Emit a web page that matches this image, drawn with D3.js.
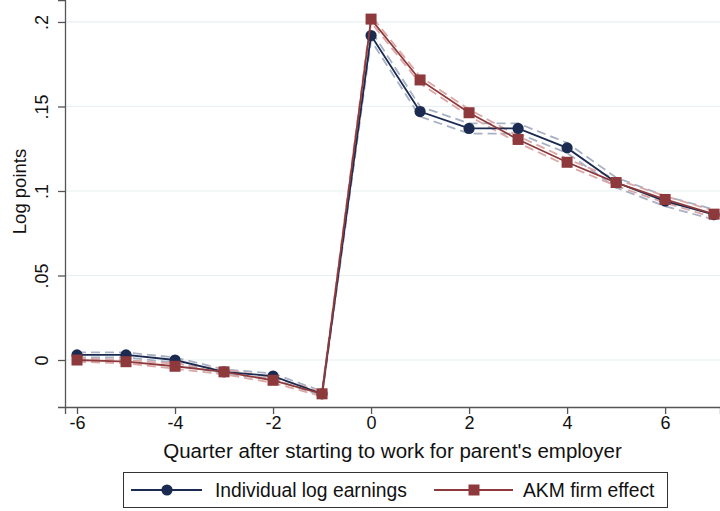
<!DOCTYPE html>
<html>
<head>
<meta charset="utf-8">
<script src="https://cdn.jsdelivr.net/npm/d3@7"></script>
<style>
html,body{margin:0;padding:0;background:#fff;}
svg{display:block;font-family:"Liberation Sans",Arial,Helvetica,sans-serif;}
</style>
</head>
<body>
<svg id="chart" width="720" height="511"></svg>
<script>
const quarters = [-6,-5,-4,-3,-2,-1,0,1,2,3,4,5,6,7];
const indiv    = [0.003,0.003,0.000,-0.007,-0.0095,-0.020,0.192,0.147,0.137,0.137,0.1255,0.105,0.094,0.086];
const indivLo  = [0.0015,0.0015,-0.0015,-0.0085,-0.011,-0.0215,0.189,0.144,0.134,0.134,0.1225,0.102,0.091,0.083];
const indivHi  = [0.0045,0.0045,0.0015,-0.0055,-0.008,-0.0185,0.195,0.150,0.140,0.140,0.1285,0.108,0.097,0.089];
const akm      = [0.000,-0.001,-0.0037,-0.007,-0.012,-0.020,0.2017,0.1657,0.1463,0.1305,0.117,0.105,0.095,0.0863];
const akmLo    = [-0.001,-0.002,-0.0052,-0.0085,-0.0135,-0.0215,0.1997,0.1637,0.1443,0.1285,0.115,0.103,0.093,0.0843];
const akmHi    = [0.001,0.000,-0.0022,-0.0055,-0.0105,-0.0185,0.2037,0.1677,0.1483,0.1325,0.119,0.107,0.097,0.0883];
const xTicks = [-6,-4,-2,0,2,4,6];
const xTickLabels = ["-6","-4","-2","0","2","4","6"];
const yTicks = [0,0.05,0.1,0.15,0.2];
const yTickLabels = ["0",".05",".1",".15",".2"];
const xTitle = "Quarter after starting to work for parent's employer";
const yTitle = "Log points";
const legendLabels = ["Individual log earnings","AKM firm effect"];

const svg = d3.select("#chart");
const mLeft = 65, mRight = 720, mTop = 0, mBottom = 407;
const x = d3.scaleLinear().domain([-6.245, 7.12]).range([mLeft, mRight]);
const y = d3.scaleLinear().domain([-0.0278, 0.213]).range([mBottom, mTop]);

const blue = "#1b2a50", red = "#8e3a3c", blueCI = "#a7b1c4", redCI = "#dba7a6";

// gridlines
svg.append("g").selectAll("line").data(yTicks).join("line")
  .attr("x1", mLeft).attr("x2", mRight)
  .attr("y1", d=>y(d)).attr("y2", d=>y(d))
  .attr("stroke", "#e6eff1").attr("stroke-width", 1.2);

// axes
const yAxis = d3.axisLeft(y).tickValues(yTicks).tickSize(7).tickFormat((d,i)=>yTickLabels[i]);
const gy = svg.append("g").attr("transform", `translate(${mLeft},0)`).call(yAxis);
gy.select(".domain").attr("stroke","#555").attr("stroke-width",1.3);
gy.selectAll(".tick line").attr("stroke","#555").attr("stroke-width",1.3);
gy.selectAll(".tick text")
  .attr("font-size", 18).attr("fill","#111")
  .attr("x", 0).attr("y", 0)
  .attr("text-anchor","middle")
  .attr("dy", "0.35em")
  .attr("transform", "translate(-23,0) rotate(-90)");

const xAxis = d3.axisBottom(x).tickValues(xTicks).tickSize(7).tickFormat((d,i)=>xTickLabels[i]);
const gx = svg.append("g").attr("transform", `translate(0,${mBottom})`).call(xAxis);
gx.select(".domain").attr("stroke","#555").attr("stroke-width",1.3);
gx.selectAll(".tick line").attr("stroke","#555").attr("stroke-width",1.3);
gx.selectAll(".tick text").attr("font-size", 18).attr("fill","#111").attr("y", 9);

// titles
svg.append("text").attr("x", (mLeft+mRight)/2).attr("y", 458)
  .attr("text-anchor","middle").attr("font-size", 20.5).attr("fill","#111").text(xTitle);
svg.append("text").attr("transform", `translate(26,${(mTop+mBottom)/2 - 12}) rotate(-90)`)
  .attr("text-anchor","middle").attr("font-size", 18.5).attr("fill","#111").text(yTitle);

const line = d3.line().x((d,i)=>x(quarters[i])).y(d=>y(d));

function ci(arr, color){
  svg.append("path").datum(arr).attr("d", line)
    .attr("fill","none").attr("stroke", color).attr("stroke-width", 1.8)
    .attr("stroke-dasharray","9,5");
}
ci(indivLo, blueCI); ci(indivHi, blueCI);
ci(akmLo, redCI); ci(akmHi, redCI);

svg.append("path").datum(indiv).attr("d", line)
  .attr("fill","none").attr("stroke", blue).attr("stroke-width", 1.8);
svg.append("g").selectAll("circle").data(indiv).join("circle")
  .attr("cx",(d,i)=>x(quarters[i])).attr("cy", d=>y(d)).attr("r", 5.6).attr("fill", blue);

svg.append("path").datum(akm).attr("d", line)
  .attr("fill","none").attr("stroke", red).attr("stroke-width", 1.8);
const sq = 11;
svg.append("g").selectAll("rect").data(akm).join("rect")
  .attr("x",(d,i)=>x(quarters[i])-sq/2).attr("y", d=>y(d)-sq/2)
  .attr("width", sq).attr("height", sq).attr("fill", red);

// legend
const lg = svg.append("g");
lg.append("rect").attr("x",123.5).attr("y",472.5).attr("width",544).attr("height",35)
  .attr("fill","#fff").attr("stroke","#333").attr("stroke-width",1);
const ly = 490;
lg.append("line").attr("x1",131).attr("x2",202).attr("y1",ly).attr("y2",ly).attr("stroke",blue).attr("stroke-width",1.8);
lg.append("circle").attr("cx",167).attr("cy",ly).attr("r",5.6).attr("fill",blue);
lg.append("text").attr("x",215).attr("y",ly).attr("dy","0.35em").attr("font-size",19.3).attr("fill","#111").text(legendLabels[0]);
lg.append("line").attr("x1",434).attr("x2",513).attr("y1",ly).attr("y2",ly).attr("stroke",red).attr("stroke-width",1.8);
lg.append("rect").attr("x",474-sq/2).attr("y",ly-sq/2).attr("width",sq).attr("height",sq).attr("fill",red);
lg.append("text").attr("x",523).attr("y",ly).attr("dy","0.35em").attr("font-size",19.3).attr("fill","#111").text(legendLabels[1]);
</script>
</body>
</html>
